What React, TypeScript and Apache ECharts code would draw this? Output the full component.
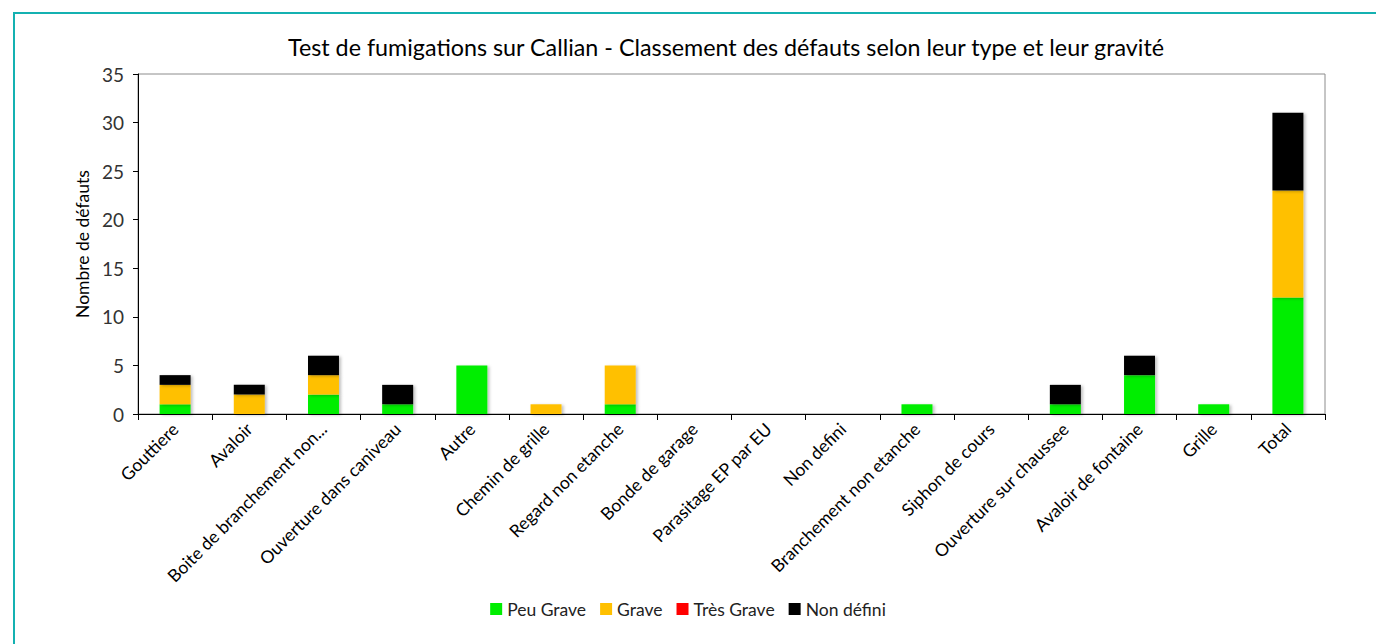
import React, { useEffect, useRef } from "react";
import * as echarts from "echarts";

const categories = [
  "Gouttiere",
  "Avaloir",
  "Boite de branchement non...",
  "Ouverture dans caniveau",
  "Autre",
  "Chemin de grille",
  "Regard non etanche",
  "Bonde de garage",
  "Parasitage EP par EU",
  "Non defini",
  "Branchement non etanche",
  "Siphon de cours",
  "Ouverture sur chaussee",
  "Avaloir de fontaine",
  "Grille",
  "Total",
];

const peuGrave = [1, 0, 2, 1, 5, 0, 1, 0, 0, 0, 1, 0, 1, 4, 1, 12];
const grave = [2, 2, 2, 0, 0, 1, 4, 0, 0, 0, 0, 0, 0, 0, 0, 11];
const tresGrave = [0, 0, 0, 0, 0, 0, 0, 0, 0, 0, 0, 0, 0, 0, 0, 0];
const nonDefini = [1, 1, 2, 2, 0, 0, 0, 0, 0, 0, 0, 0, 2, 2, 0, 8];

const seriesNames = ["Peu Grave", "Grave", "Très Grave", "Non défini"];
const seriesColors = ["#00EE00", "#FFC000", "#FF0000", "#000000"];
const seriesData = [peuGrave, grave, tresGrave, nonDefini];

const titleText =
  "Test de fumigations sur Callian - Classement des défauts selon leur type et leur gravité";
const yAxisName = "Nombre de défauts";

const FONT = "Lato, 'Open Sans', sans-serif";

export default function App() {
  const ref = useRef<HTMLDivElement>(null);

  useEffect(() => {
    if (!ref.current) return;
    const chart = echarts.init(ref.current, undefined, { renderer: "svg" });
    chart.setOption({
      animation: false,
      backgroundColor: "#ffffff",
      textStyle: { fontFamily: FONT },
      graphic: [
        {
          type: "rect",
          shape: { x: 14, y: 13, width: 1400, height: 700 },
          style: { fill: "none", stroke: "#14B1B1", lineWidth: 2 },
          silent: true,
        },
      ],
      title: {
        text: titleText,
        left: 283,
        top: 30,
        textStyle: {
          fontFamily: FONT,
          fontSize: 23.3,
          fontWeight: "normal",
          color: "#000000",
        },
      },
      legend: {
        bottom: 21,
        left: "center",
        itemWidth: 12,
        itemHeight: 12,
        itemGap: 14,
        icon: "rect",
        textStyle: { fontFamily: FONT, fontSize: 17.5, color: "#222222" },
        data: seriesNames,
      },
      grid: {
        left: 138,
        right: 51,
        top: 74,
        bottom: 230,
        show: true,
        borderColor: "#8c8c8c",
        borderWidth: 1,
        containLabel: false,
      },
      xAxis: {
        type: "category",
        data: categories,
        axisLine: { lineStyle: { color: "#000000", width: 1 } },
        axisTick: { show: true, length: 6, lineStyle: { color: "#000000" } },
        axisLabel: {
          rotate: 45,
          interval: 0,
          fontFamily: FONT,
          fontSize: 17.5,
          color: "#000000",
          margin: 12,
        },
      },
      yAxis: {
        type: "value",
        min: 0,
        max: 35,
        interval: 5,
        name: yAxisName,
        nameLocation: "middle",
        nameGap: 46,
        nameRotate: 90,
        nameTextStyle: { fontFamily: FONT, fontSize: 17.5, color: "#000000" },
        axisLine: { show: true, lineStyle: { color: "#000000", width: 1 } },
        axisTick: { show: true, length: 5, lineStyle: { color: "#000000" } },
        splitLine: { show: false },
        axisLabel: {
          fontFamily: FONT,
          fontSize: 19,
          color: "#333333",
          margin: 14,
        },
      },
      series: seriesNames.map((name, i) => ({
        name,
        type: "bar",
        stack: "total",
        barWidth: 31,
        data: seriesData[i],
        itemStyle: {
          color: seriesColors[i],
          shadowColor: "rgba(0,0,0,0.25)",
          shadowBlur: 3,
          shadowOffsetX: 2,
          shadowOffsetY: 1,
        },
      })),
    });
    return () => chart.dispose();
  }, []);

  return (
    <div
      ref={ref}
      style={{ position: "fixed", left: 0, top: 0, width: 1376, height: 644 }}
    />
  );
}
